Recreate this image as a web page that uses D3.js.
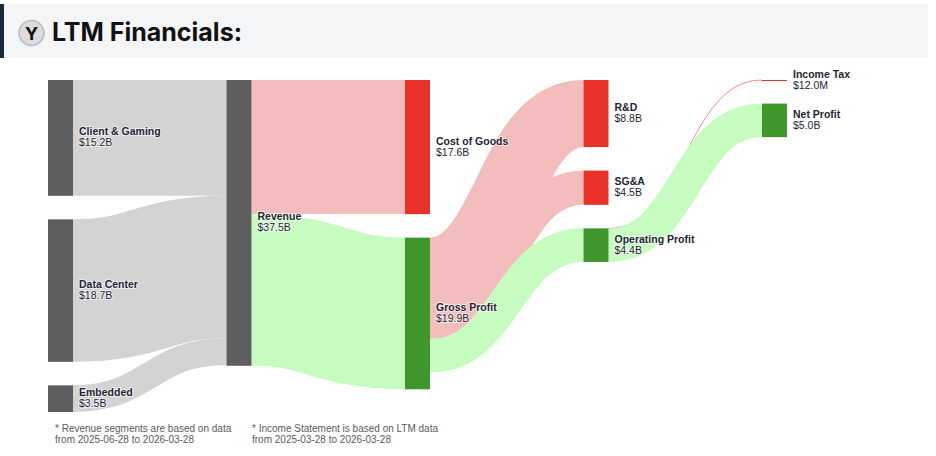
<!DOCTYPE html>
<html>
<head>
<meta charset="utf-8">
<script src="https://cdn.jsdelivr.net/npm/d3@7"></script>
<style>
  body { margin: 0; background: #fff; }
  svg { display: block; }
</style>
</head>
<body>
<div id="chart"></div>
<script>
// nodes
const nodeNames = ["Client & Gaming", "Data Center", "Embedded", "Revenue", "Cost of Goods",
  "Gross Profit", "R&D", "SG&A", "Operating Profit", "Income Tax", "Net Profit"];
const nodeLabels = ["$15.2B", "$18.7B", "$3.5B", "$37.5B", "$17.6B",
  "$19.9B", "$8.8B", "$4.5B", "$4.4B", "$12.0M", "$5.0B"];
const nodeColumns = [0, 0, 0, 1, 2, 2, 3, 3, 3, 4, 4];
const nodeKinds = ["segment", "segment", "segment", "segment", "cost",
  "profit", "cost", "cost", "profit", "cost", "profit"];

// links (values in $B)
const linkSources = [0, 1, 2, 3, 3, 5, 5, 5, 8, 8];
const linkTargets = [3, 3, 3, 4, 5, 6, 7, 8, 9, 10];
const linkValues = [15.2, 18.7, 3.5, 17.6, 19.9, 8.8, 4.5, 4.4, 0.012, 4.4];

const notes = [
  ["* Revenue segments are based on data", "from 2025-06-28 to 2026-03-28"],
  ["* Income Statement is based on LTM data", "from 2025-03-28 to 2026-03-28"]
];

const width = 936, height = 456;
const nodeWidth = 25, nodePadding = 23.5;
const chartTop = 80, chartBottom = 412;

const nodeColor = { segment: "#5e5e5e", cost: "#e8322a", profit: "#3f962b" };
const linkColor = { segment: "#d3d3d3", cost: "#f4bdbd", profit: "#c7fcc1" };

const svg = d3.select("#chart").append("svg")
  .attr("width", width).attr("height", height);

// header
svg.append("rect").attr("x", 0).attr("y", 4).attr("width", 928).attr("height", 54)
  .attr("fill", "#f4f5f7");
svg.append("rect").attr("x", 0).attr("y", 4).attr("width", 4).attr("height", 54)
  .attr("fill", "#18293a");
svg.append("circle").attr("cx", 31.5).attr("cy", 33).attr("r", 12.5)
  .attr("fill", "#dcdcdc").attr("stroke", "#b9b9b9").attr("stroke-width", 1.5);
svg.append("text").attr("x", 31.5).attr("y", 39.5).attr("text-anchor", "middle")
  .attr("font-family", "Inter, sans-serif").attr("font-weight", 700).attr("font-size", 18)
  .attr("fill", "#111").text("Y");
svg.append("text").attr("x", 52).attr("y", 41)
  .attr("font-family", "Inter, sans-serif").attr("font-weight", 700).attr("font-size", 25)
  .attr("fill", "#111").text("LTM Financials:");

// layout
const nodes = nodeNames.map((name, i) => ({
  index: i, name, label: nodeLabels[i], column: nodeColumns[i], kind: nodeKinds[i],
  sourceLinks: [], targetLinks: []
}));
const links = linkSources.map((s, i) => ({
  source: nodes[s], target: nodes[linkTargets[i]], value: linkValues[i]
}));
links.forEach(l => {
  l.source.sourceLinks.push(l);
  l.target.targetLinks.push(l);
});
nodes.forEach(n => {
  n.value = Math.max(d3.sum(n.sourceLinks, l => l.value), d3.sum(n.targetLinks, l => l.value));
});

const columns = d3.groups(nodes, n => n.column).map(d => d[1]);
const ky = d3.min(columns, c => (chartBottom - chartTop - (c.length - 1) * nodePadding) / d3.sum(c, n => n.value));
const y = d3.scaleLinear().domain([0, 1]).range([0, ky]);
const x = d3.scaleLinear().domain([0, 4]).range([48, 762]);

columns.forEach(c => {
  let y0 = chartTop;
  c.forEach(n => {
    n.x0 = x(n.column);
    n.x1 = n.x0 + nodeWidth;
    n.y0 = y0;
    n.y1 = y0 + y(n.value);
    y0 = n.y1 + nodePadding;
  });
});

nodes.forEach(n => {
  let sy = n.y0, ty = n.y0;
  n.sourceLinks.forEach(l => {
    l.width = y(l.value);
    l.y0 = sy + l.width / 2;
    sy += l.width;
  });
  n.targetLinks.forEach(l => {
    l.width = y(l.value);
    l.y1 = ty + l.width / 2;
    ty += l.width;
  });
});

const linkPath = d3.linkHorizontal()
  .source(d => [d.source.x1, d.y0])
  .target(d => [d.target.x0, d.y1]);

svg.append("g").attr("fill", "none")
  .selectAll("path")
  .data(links)
  .join("path")
  .attr("d", linkPath)
  .attr("stroke", d => d.width < 1 ? "#f08a8a" : linkColor[d.target.kind])
  .attr("stroke-width", d => Math.max(1, d.width));

svg.append("g")
  .selectAll("rect")
  .data(nodes)
  .join("rect")
  .attr("x", d => d.x0)
  .attr("y", d => d.y0)
  .attr("width", nodeWidth)
  .attr("height", d => Math.max(1, d.y1 - d.y0))
  .attr("fill", d => nodeColor[d.kind]);

const labels = svg.append("g")
  .attr("font-family", "Liberation Sans, Arial, sans-serif")
  .attr("font-size", 10.5)
  .attr("fill", "#1f2535")
  .attr("stroke", "#fff")
  .attr("stroke-width", 2)
  .attr("stroke-opacity", 0.6)
  .attr("paint-order", "stroke")
  .selectAll("text")
  .data(nodes)
  .join("text")
  .attr("x", d => d.x1 + 6)
  .attr("y", d => (d.y0 + d.y1) / 2);
labels.append("tspan").attr("font-weight", 700).attr("dy", -2.5).text(d => d.name);
labels.append("tspan").attr("x", d => d.x1 + 6).attr("dy", 11).text(d => d.label);

// footnotes
const noteX = d3.scalePoint().domain(d3.range(notes.length)).range([55, 252]);
notes.forEach((lines, i) => {
  svg.append("text")
    .attr("font-family", "Liberation Sans, Arial, sans-serif")
    .attr("font-size", 10).attr("fill", "#5a5a5a")
    .selectAll("tspan").data(lines).join("tspan")
    .attr("x", noteX(i)).attr("y", (d, j) => 432 + j * 11)
    .text(d => d);
});
</script>
</body>
</html>
